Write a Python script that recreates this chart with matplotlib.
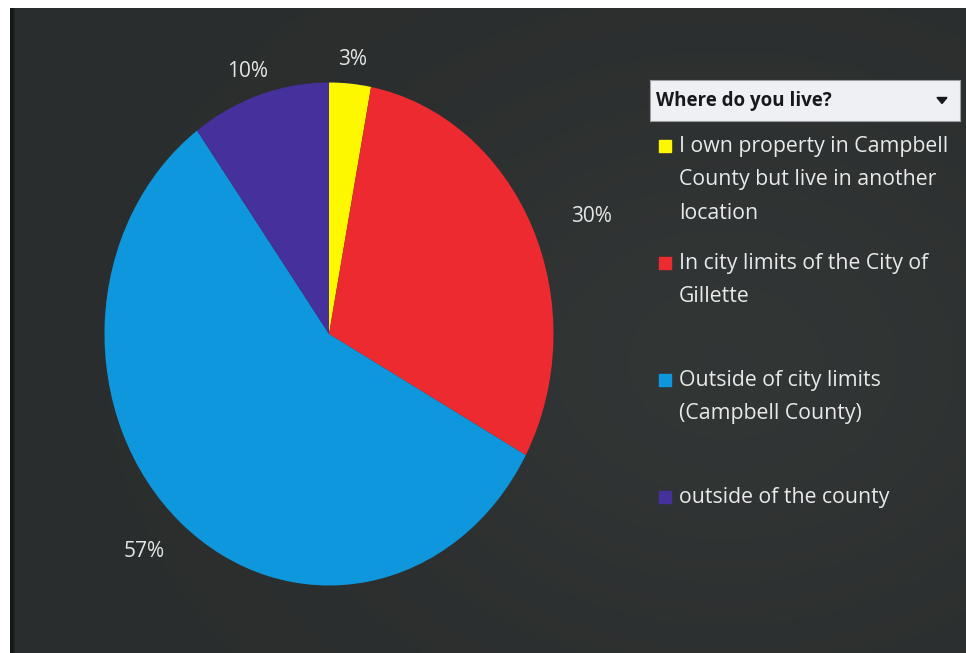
import matplotlib.pyplot as plt
from matplotlib.patches import Rectangle
import numpy as np

# Survey answers, clockwise from 12 o'clock
etiquetas = [
    "I own property in Campbell\nCounty but live in another\nlocation",
    "In city limits of the City of\nGillette",
    "Outside of city limits\n(Campbell County)",
    "outside of the county",
]
porcentajes = [3, 30, 57, 10]
colores = ["#fdf700", "#ec2a30", "#0e97dc", "#45309c"]
titulo_leyenda = "Where do you live?"

W, H = 966, 653
fig = plt.figure(figsize=(W / 100, H / 100), dpi=100, facecolor="white")

# fondo oscuro con un leve degradado
fondo = fig.add_axes([10 / W, 0, 1 - 10 / W, 1 - 8 / H])
yy, xx = np.mgrid[0:1:200j, 0:1:300j]
grad = 0.17 + 0.03 * np.exp(-((xx - 0.75) ** 2 / 0.15 + (yy - 0.45) ** 2 / 0.2))
fondo.imshow(np.dstack([grad * 0.98, grad * 1.05, grad * 1.04]).clip(0, 1),
             extent=[0, 1, 0, 1], aspect="auto", origin="lower")
fondo.set_xlim(0, 1)
fondo.set_ylim(0, 1)
fondo.axis("off")
fondo.add_patch(Rectangle((0, 0), 0.003, 1, color="#15191a", transform=fondo.transAxes))

# el pastel ocupa 449x503 px, centrado en (329, 334)
cx, cy, rx, ry = 329, 334, 224.5, 251.5
ax = fig.add_axes([(cx - rx) / W, (H - cy - ry) / H, 2 * rx / W, 2 * ry / H])
cunas, textos_pct, autotextos = ax.pie(
    porcentajes, colors=colores, startangle=90, counterclock=False,
    autopct="%d%%", pctdistance=1.12, labels=None, radius=1.0,
    wedgeprops=dict(linewidth=0),
    textprops=dict(color="#e4e6e6", fontsize=15, family="Open Sans"))
ax.set_aspect("auto")
ax.set_xlim(-1, 1)
ax.set_ylim(-1, 1)
ax.axis("off")
# etiquetas laterales un poco más separadas, como en Excel
for t in autotextos:
    x, y = t.get_position()
    t.set_position((x * (1 + 0.15 * abs(x)), y * (0.98 - 0.06 * min(y, 0))))

# caja del título de la leyenda
caja = fig.add_axes([650 / W, (H - 121) / H, 310 / W, 41 / H])
caja.set_xlim(0, 310)
caja.set_ylim(0, 41)
caja.set_facecolor("#eef0f4")
for s in caja.spines.values():
    s.set_color("#9a9ea2")
caja.set_xticks([])
caja.set_yticks([])
caja.text(6, 20, titulo_leyenda, fontsize=13.5, fontweight="bold",
          color="#15181c", va="center", family="Open Sans")
caja.fill([287, 297, 292], [23.5, 23.5, 17.5], color="#15181c")

# entradas de la leyenda
y0 = 146
paso = 117
for i, (txt, col) in enumerate(zip(etiquetas, colores)):
    y = y0 + i * paso
    fig.patches.append(Rectangle((659 / W, (H - y - 6) / H), 12 / W, 12 / H,
                                 color=col, transform=fig.transFigure))
    fig.text(679 / W, (H - y + 10) / H, txt, fontsize=15.3, color="#e8eaea",
             va="top", ha="left", family="Open Sans", linespacing=1.78)

fig.savefig("out.png", dpi=100, facecolor="white")
